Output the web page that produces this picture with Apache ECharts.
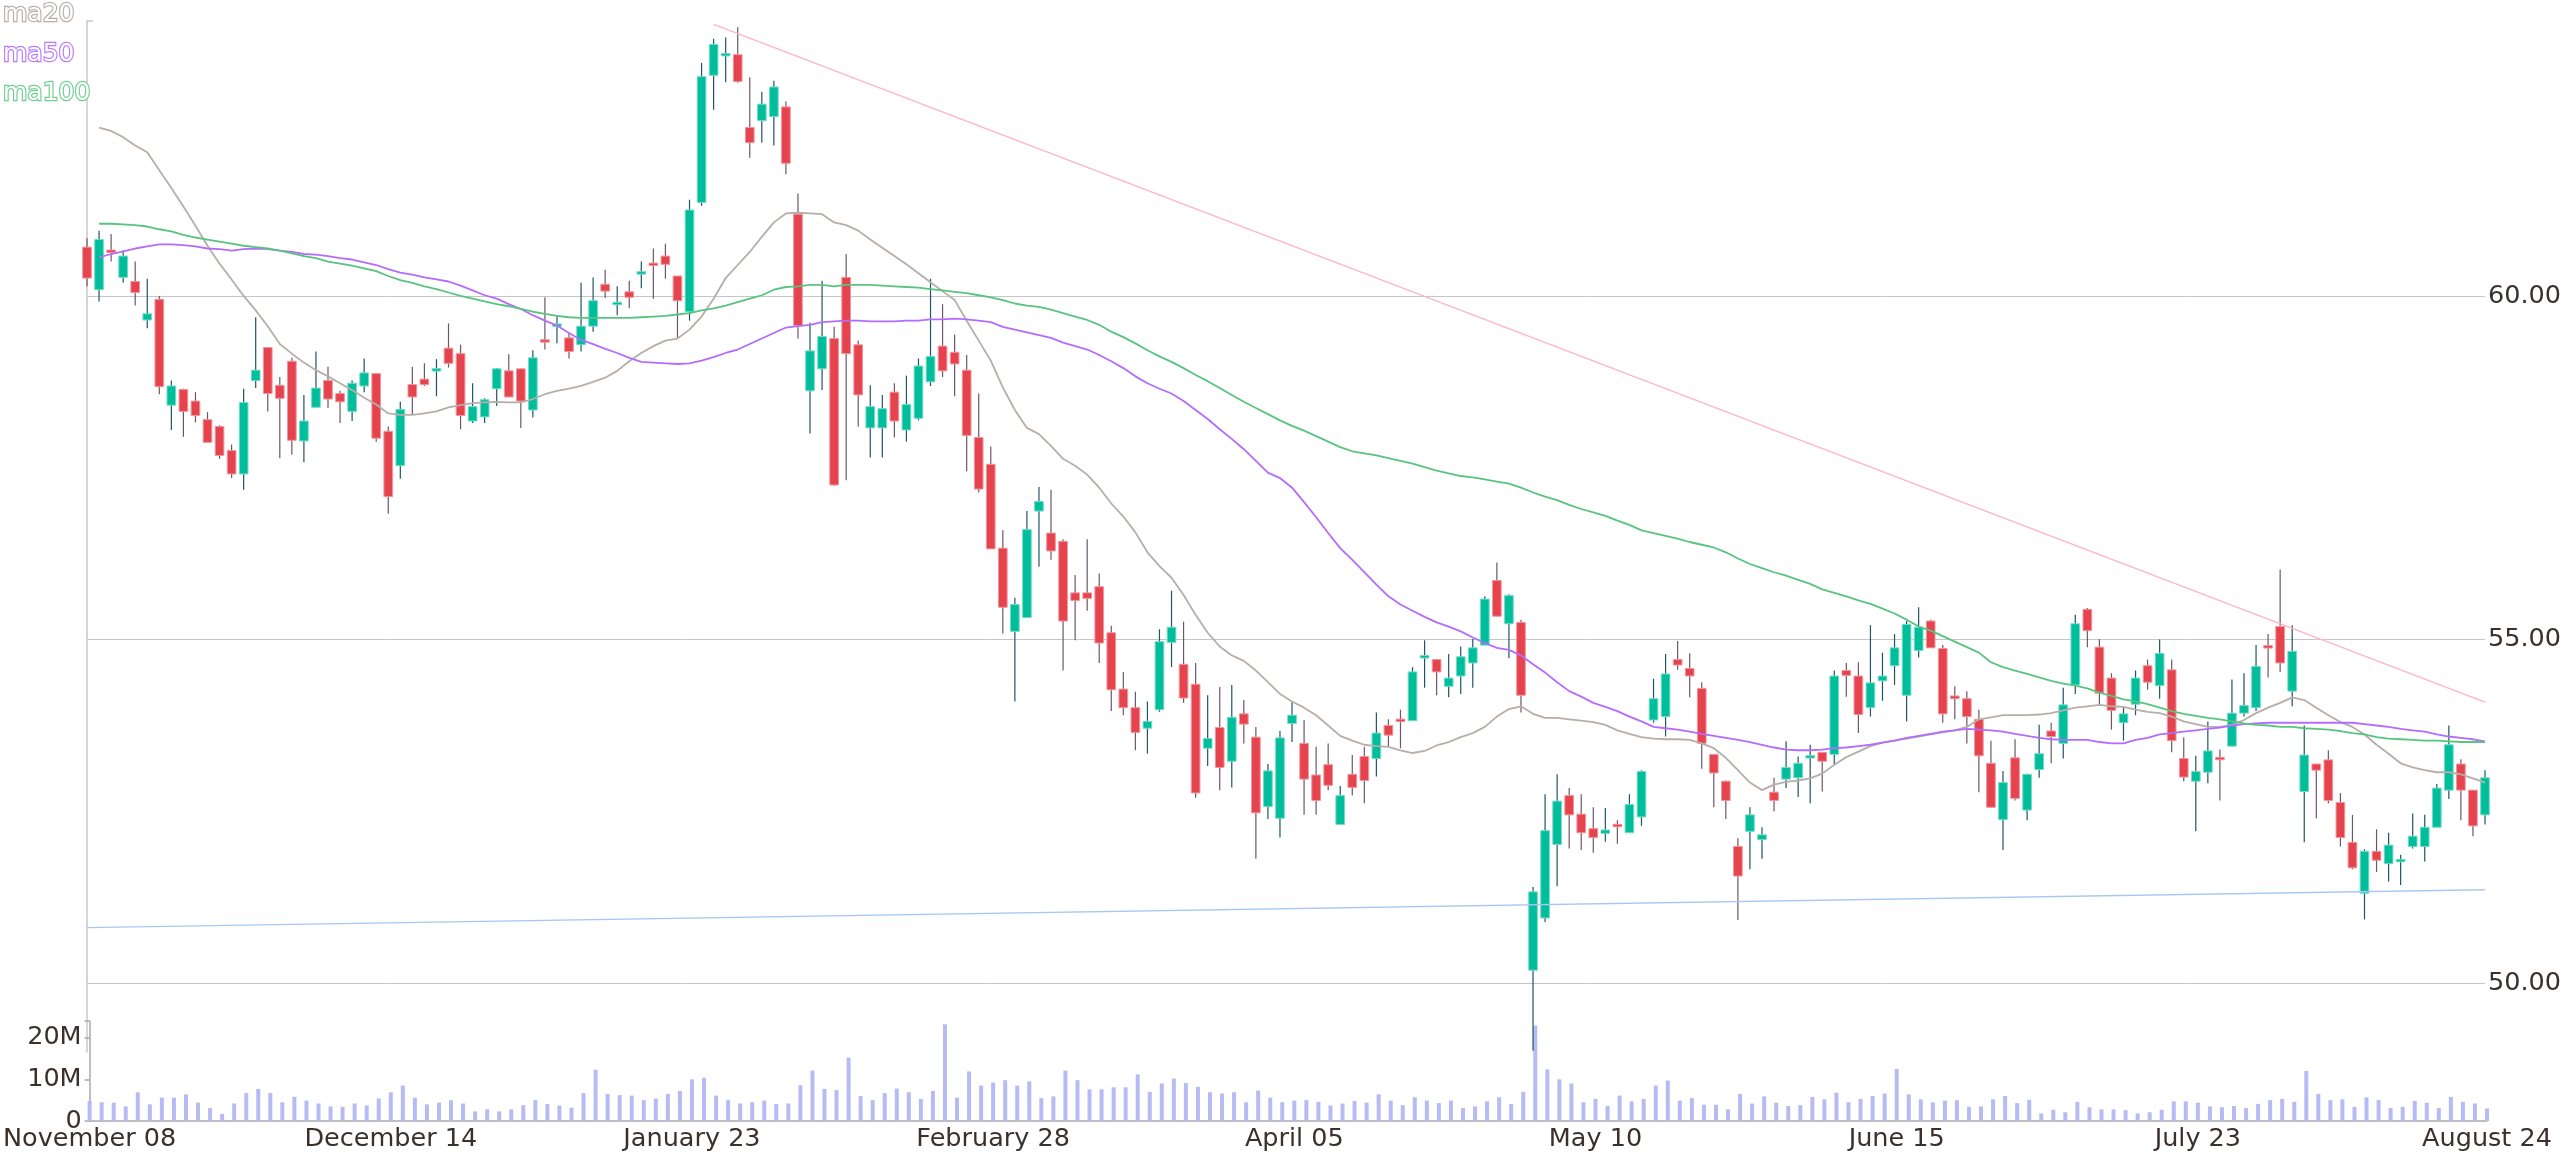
<!DOCTYPE html>
<html><head><meta charset="utf-8">
<script src="https://cdn.jsdelivr.net/npm/echarts@6/dist/echarts.min.js"></script>
<style>html,body{margin:0;padding:0;background:#fff}#chart{width:2564px;height:1153px}</style>
</head><body><div id="chart"></div>
<script>
// ---- categories: NYSE trading days 2017-11-08 .. 2018-08-24 ----
const holidays = ['2017-11-23','2017-12-25','2018-01-01','2018-01-15','2018-02-19','2018-03-30','2018-05-28','2018-07-04'];
const firstDay = '2017-11-08', lastDay = '2018-08-24';
const monthNames = ['January','February','March','April','May','June','July','August','September','October','November','December'];
function tradingDays(start, end, hol) {
  const out = [];
  const d = new Date(start + 'T00:00:00Z'), e = new Date(end + 'T00:00:00Z');
  while (d <= e) {
    const wd = d.getUTCDay(), s = d.toISOString().slice(0, 10);
    if (wd !== 0 && wd !== 6 && hol.indexOf(s) < 0) out.push(s);
    d.setUTCDate(d.getUTCDate() + 1);
  }
  return out;
}
const dates = tradingDays(firstDay, lastDay, holidays);

// ---- price data ----
const opens = [60.71,60.09,60.66,60.27,60.21,59.65,59.95,58.41,58.64,58.47,58.20,58.10,57.75,57.41,58.77,59.25,58.70,59.05,57.89,58.38,
58.77,58.58,58.32,58.69,58.87,58.03,57.53,58.71,58.79,58.92,59.24,59.16,58.18,58.24,58.65,58.91,58.94,58.34,59.35,59.57,
59.39,59.29,59.56,60.17,59.88,60.06,60.33,60.47,60.58,60.29,59.77,61.36,63.21,63.50,63.51,62.45,62.55,62.61,62.75,61.19,
58.62,58.94,59.38,60.27,59.29,58.08,58.08,58.60,58.05,58.22,58.75,59.27,59.18,58.92,57.94,57.55,56.33,55.12,55.32,56.87,
56.55,56.43,55.68,55.68,55.77,55.10,54.28,54.01,53.71,53.98,54.96,54.64,54.35,53.42,53.72,53.23,53.92,53.58,52.57,52.40,
53.78,53.49,53.03,53.18,52.31,53.04,53.30,53.27,53.75,53.83,53.82,54.74,54.71,54.32,54.47,54.66,54.92,55.86,55.23,55.25,
50.19,50.95,52.02,52.73,52.46,52.25,52.18,52.30,52.19,52.42,53.83,53.88,54.71,54.58,54.29,53.33,52.94,51.99,52.21,52.09,
52.78,52.97,52.99,53.29,53.36,53.33,54.55,54.47,54.01,54.40,54.62,54.19,54.84,55.27,54.87,54.18,54.14,53.84,53.20,52.38,
53.28,52.52,53.11,53.67,53.49,54.34,55.44,54.89,54.44,53.79,54.06,54.62,54.33,54.56,53.27,52.94,53.07,53.28,53.45,53.93,
54.01,54.90,55.19,54.25,52.79,53.19,53.25,52.63,52.05,51.31,51.92,51.74,51.78,51.99,51.99,52.27,52.81,53.19,52.81,52.45];
const closes = [60.26,60.82,60.64,60.58,60.05,59.74,58.68,58.69,58.32,58.26,57.87,57.68,57.41,58.45,58.92,58.58,58.51,57.90,58.18,58.66,
58.50,58.46,58.73,58.88,57.93,57.08,58.35,58.53,58.71,58.93,59.02,58.26,58.39,58.49,58.94,58.53,58.47,59.10,59.34,59.58,
59.19,59.56,59.93,60.07,59.90,59.98,60.34,60.45,60.46,59.93,61.25,63.19,63.66,63.52,63.12,62.23,62.79,63.04,61.93,59.57,
59.20,59.41,57.25,59.16,58.56,58.39,58.36,58.18,58.42,58.98,59.12,58.91,59.01,57.97,57.19,56.32,55.47,55.51,56.60,57.01,
56.29,55.27,55.57,55.60,54.95,54.27,54.01,53.65,53.81,54.97,55.18,54.15,52.77,53.56,53.14,53.87,53.77,52.48,53.09,53.57,
53.90,52.97,52.66,52.88,52.73,52.85,52.95,53.64,53.61,53.82,54.53,54.76,54.53,54.44,54.75,54.88,55.59,55.34,55.64,54.19,
51.33,52.22,52.65,52.45,52.19,52.12,52.23,52.29,52.60,53.08,54.14,54.50,54.63,54.47,53.49,53.06,52.66,51.56,52.45,52.16,
52.66,53.14,53.20,53.30,53.23,54.47,54.48,53.91,54.37,54.47,54.88,55.22,55.18,54.88,53.92,54.14,53.88,53.31,52.56,52.92,
52.69,53.04,53.34,53.59,54.05,55.23,55.13,54.22,53.97,53.92,54.44,54.38,54.80,53.53,53.00,53.08,53.38,53.26,53.93,54.04,
54.61,54.89,54.66,54.83,53.32,53.10,52.66,52.12,51.68,51.92,51.79,52.01,51.79,52.14,52.27,52.84,53.47,52.81,52.29,52.99];
const lows = [60.14,59.92,60.50,60.19,59.86,59.53,58.57,58.05,57.95,58.16,57.87,57.63,57.35,57.18,58.66,58.32,57.64,57.69,57.58,58.38,
58.37,58.15,58.18,58.60,57.88,56.83,57.34,58.27,58.69,58.54,58.96,58.06,58.15,58.15,58.40,58.53,58.08,58.23,59.22,59.31,
59.09,59.19,59.48,59.97,59.72,59.82,60.11,59.96,60.25,59.38,59.64,61.31,62.71,63.11,63.10,62.01,62.23,62.19,61.77,59.38,
58.00,58.63,57.24,57.32,58.10,57.65,57.65,57.94,57.88,58.19,58.69,58.82,58.54,57.45,57.14,56.32,55.09,54.10,55.32,56.06,
56.16,54.55,54.99,55.42,54.66,53.96,53.90,53.39,53.34,53.95,54.60,54.08,52.70,53.16,52.81,52.85,53.49,51.81,52.39,52.12,
53.51,52.45,52.45,52.81,52.31,52.73,52.62,53.01,53.45,53.42,53.82,54.30,54.19,54.16,54.21,54.30,54.92,55.34,54.73,53.94,
49.02,50.89,51.41,51.96,51.94,51.90,52.06,52.03,52.19,52.29,53.79,53.59,54.56,54.16,53.12,52.56,52.39,50.92,51.66,51.81,
52.50,52.84,52.71,52.62,52.79,53.19,54.17,53.64,53.88,54.11,54.34,53.81,54.74,54.88,53.79,53.84,53.49,52.78,52.56,51.94,
52.66,52.37,52.99,53.20,53.27,54.21,54.89,54.06,53.69,53.53,53.90,54.27,54.14,53.36,52.94,52.21,52.91,52.66,53.45,53.88,
53.96,54.45,54.53,54.03,52.05,52.40,52.62,51.99,51.66,50.93,51.62,51.48,51.43,51.96,51.77,52.27,52.68,52.37,52.14,52.31];
const highs = [60.84,60.95,60.90,60.66,60.50,60.25,60.00,58.77,58.65,58.60,58.31,58.12,57.84,58.65,59.69,59.25,58.82,59.10,58.56,59.19,
58.97,58.62,58.77,59.09,58.87,58.10,58.46,58.97,59.02,59.08,59.60,59.29,58.73,58.51,58.95,59.15,58.94,59.21,59.98,59.72,
59.46,60.19,60.27,60.38,60.14,60.22,60.50,60.69,60.76,60.29,61.40,63.39,63.74,63.76,63.91,63.18,62.97,63.13,62.83,61.49,
59.61,60.22,59.55,60.61,59.35,58.70,58.56,58.73,58.84,59.09,60.25,59.88,59.44,59.14,58.58,57.81,56.59,55.61,56.87,57.22,
57.18,56.46,55.94,56.46,55.96,55.20,54.53,54.24,54.10,55.15,55.71,55.26,54.66,54.19,54.31,54.34,54.12,53.73,53.19,53.67,
54.09,53.83,53.44,53.49,52.87,53.32,53.44,53.94,53.84,53.98,54.60,54.99,54.71,54.79,54.90,55.01,55.63,56.12,55.66,55.29,
51.40,52.75,53.04,52.84,52.75,52.56,52.55,52.37,52.75,53.10,54.43,54.79,54.98,54.80,54.38,53.33,52.95,52.11,52.56,52.27,
52.99,53.52,53.30,53.47,53.36,54.55,54.66,54.67,55.21,54.81,55.08,55.27,55.47,55.29,54.92,54.32,54.25,53.98,53.53,53.09,
53.55,53.05,53.76,53.79,54.30,55.36,55.46,55.01,54.51,54.03,54.55,54.71,55.00,54.71,53.58,53.31,53.81,53.40,54.42,54.51,
54.92,55.08,56.02,55.21,53.75,53.19,53.39,52.77,52.45,51.95,52.24,52.19,51.87,52.47,52.45,52.90,53.75,53.26,52.81,53.10];

// ---- volume (millions) ----
const volumes = [4.8,4.5,4.4,3.5,6.9,4.0,5.6,5.6,6.4,4.4,3.1,1.7,4.2,6.7,7.7,6.7,4.5,5.8,4.9,4.2,
3.5,3.4,4.2,3.7,5.4,6.9,8.5,5.6,4.0,4.4,5.0,4.2,2.3,2.8,2.3,2.8,3.8,5.0,4.1,3.7,
3.2,6.7,12.3,6.5,6.2,6.1,5.0,5.4,6.5,7.2,10.0,10.4,6.1,5.0,4.2,4.5,4.9,4.1,4.2,8.6,
12.1,7.7,7.4,15.2,6.0,5.0,6.7,7.8,6.9,5.3,7.2,23.2,5.6,11.9,8.5,9.2,9.8,8.5,9.5,5.5,
5.9,12.1,9.8,7.6,7.6,8.1,8.1,11.2,7.0,9.0,10.2,9.1,8.2,6.9,6.6,6.9,4.5,7.3,5.6,4.5,
4.9,5.0,4.6,3.7,4.2,4.8,4.4,6.4,4.9,3.8,5.7,4.9,4.3,4.9,3.1,3.5,4.7,5.7,4.1,7.0,
22.9,12.4,10.0,9.0,4.5,5.3,3.6,6.1,4.7,5.3,8.5,9.7,4.9,5.5,3.9,3.9,2.8,6.5,4.2,5.9,
4.4,3.6,3.8,5.8,5.2,6.8,4.5,5.3,6.0,6.6,12.5,6.4,5.2,4.5,4.9,5.0,3.4,3.5,5.2,6.0,
4.3,5.1,1.8,2.7,2.1,4.6,3.3,2.8,2.8,2.6,1.8,2.1,2.7,4.7,4.7,4.4,3.5,3.3,3.6,3.1,
4.1,5.0,5.3,4.6,12.0,6.5,5.0,5.2,3.4,5.7,5.0,3.1,3.4,4.8,4.4,3.1,5.8,4.6,4.2,3.0];

// ---- moving averages ----
const ma20 = [null,62.45,62.40,62.31,62.19,62.09,61.83,61.57,61.30,61.02,60.73,60.47,60.24,60.00,59.79,59.56,59.30,59.16,59.03,58.92,
58.83,58.73,58.63,58.52,58.42,58.29,58.27,58.27,58.29,58.32,58.38,58.41,58.44,58.45,58.46,58.45,58.45,58.50,58.57,58.62,
58.65,58.69,58.75,58.81,58.91,59.05,59.17,59.27,59.35,59.38,59.51,59.70,59.96,60.26,60.45,60.64,60.86,61.07,61.20,61.21,
61.20,61.19,61.07,61.03,60.95,60.82,60.70,60.58,60.46,60.33,60.20,60.07,59.94,59.64,59.35,59.06,58.67,58.34,58.08,57.99,
57.82,57.63,57.53,57.40,57.21,56.98,56.79,56.56,56.27,56.07,55.90,55.65,55.36,55.10,54.90,54.77,54.69,54.55,54.38,54.21,
54.10,54.01,53.90,53.75,53.60,53.53,53.47,53.45,53.44,53.39,53.35,53.38,53.46,53.51,53.58,53.64,53.73,53.88,53.99,54.03,
53.92,53.86,53.86,53.84,53.82,53.80,53.76,53.68,53.63,53.58,53.56,53.55,53.55,53.54,53.49,53.42,53.28,53.10,52.92,52.81,
52.89,52.93,52.95,52.98,53.05,53.18,53.29,53.37,53.45,53.50,53.53,53.56,53.59,53.62,53.65,53.68,53.73,53.84,53.87,53.90,
53.90,53.90,53.91,53.93,53.97,54.01,54.03,54.05,54.03,54.02,53.98,53.95,53.93,53.88,53.81,53.77,53.73,53.73,53.76,53.83,
53.93,54.01,54.08,54.16,54.12,54.01,53.90,53.80,53.73,53.62,53.47,53.34,53.20,53.14,53.10,53.07,53.07,53.04,52.98,52.92];
const ma50 = [null,60.56,60.61,60.65,60.69,60.72,60.75,60.75,60.74,60.72,60.69,60.68,60.66,60.68,60.69,60.68,60.66,60.64,60.61,60.60,
60.58,60.55,60.53,60.49,60.45,60.39,60.34,60.31,60.27,60.24,60.21,60.15,60.08,60.01,59.96,59.88,59.81,59.72,59.64,59.57,
59.46,59.36,59.30,59.23,59.17,59.10,59.04,59.03,59.02,59.01,59.02,59.06,59.11,59.17,59.22,59.30,59.38,59.46,59.54,59.56,
59.58,59.62,59.63,59.64,59.64,59.63,59.63,59.63,59.64,59.64,59.66,59.66,59.67,59.66,59.64,59.62,59.55,59.51,59.47,59.43,
59.39,59.32,59.27,59.22,59.14,59.05,58.95,58.83,58.73,58.65,58.58,58.47,58.34,58.21,58.06,57.92,57.77,57.60,57.43,57.35,
57.21,57.00,56.78,56.55,56.33,56.16,55.98,55.80,55.63,55.51,55.42,55.33,55.25,55.19,55.12,55.03,54.95,54.88,54.85,54.77,
54.64,54.52,54.38,54.25,54.17,54.08,54.02,53.96,53.88,53.81,53.73,53.71,53.69,53.66,53.63,53.60,53.57,53.54,53.51,53.47,
53.43,53.40,53.39,53.39,53.40,53.42,53.43,53.45,53.47,53.50,53.53,53.57,53.60,53.63,53.66,53.68,53.70,53.69,53.68,53.66,
53.63,53.60,53.57,53.55,53.54,53.54,53.54,53.51,53.49,53.49,53.54,53.57,53.62,53.64,53.66,53.68,53.70,53.72,53.75,53.77,
53.78,53.79,53.79,53.79,53.79,53.79,53.79,53.79,53.79,53.77,53.75,53.73,53.70,53.68,53.66,53.62,53.59,53.57,53.55,53.52];
const ma100 = [null,61.05,61.05,61.04,61.03,61.01,60.97,60.94,60.89,60.85,60.82,60.79,60.76,60.73,60.71,60.69,60.66,60.62,60.58,60.55,
60.50,60.47,60.44,60.40,60.36,60.29,60.23,60.19,60.14,60.10,60.05,60.00,59.96,59.92,59.88,59.85,59.81,59.77,59.74,59.71,
59.69,59.68,59.68,59.68,59.68,59.68,59.69,59.70,59.71,59.73,59.75,59.79,59.82,59.86,59.91,59.96,60.01,60.09,60.13,60.14,
60.16,60.16,60.14,60.16,60.16,60.16,60.15,60.14,60.13,60.12,60.10,60.08,60.06,60.04,60.01,59.98,59.94,59.89,59.86,59.84,
59.80,59.75,59.70,59.65,59.58,59.48,59.40,59.31,59.21,59.12,59.04,58.95,58.85,58.76,58.66,58.56,58.46,58.37,58.28,58.19,
58.11,58.04,57.96,57.88,57.80,57.74,57.71,57.68,57.64,57.60,57.56,57.51,57.46,57.42,57.38,57.36,57.33,57.30,57.27,57.21,
57.14,57.08,57.03,56.96,56.90,56.85,56.80,56.73,56.67,56.59,56.55,56.51,56.47,56.42,56.38,56.34,56.27,56.18,56.10,56.04,
55.98,55.93,55.87,55.81,55.73,55.68,55.63,55.57,55.52,55.45,55.38,55.29,55.19,55.13,55.05,54.97,54.89,54.81,54.67,54.60,
54.55,54.50,54.45,54.40,54.36,54.33,54.29,54.23,54.18,54.13,54.10,54.06,54.01,53.96,53.92,53.89,53.86,53.84,53.81,53.78,
53.76,53.75,53.73,53.73,53.71,53.70,53.69,53.67,53.64,53.62,53.58,53.56,53.55,53.54,53.53,53.53,53.52,53.51,53.51,53.51];

// ---- trend lines: [category index, price] ----
const trendHigh = [[52, 63.95], [199, 54.09]];
const trendLow = [[0, 50.81], [199, 51.36]];

// ---- axis tick labels ----
const priceTicks = [50, 55, 60];
const volumeTicks = [0, 10e6, 20e6];
const priceRange = [49, 64];
const volumeMax = 24e6;

// ---- styling ----
const FONT = 'DejaVu Sans';
const TXT = '#3a312c';
const UP = '#00bd9c', DOWN = '#e5434d';
const UP_EDGE = '#73dcc6', DOWN_EDGE = '#f2959b';
const UP_WICK = '#1f5565', DOWN_WICK = '#6e5668';
const C20 = '#b7aea8', C50 = '#b46cff', C100 = '#58c47f';

const candleData = dates.map((d, i) => [i, opens[i], closes[i], lows[i], highs[i]]);

function renderCandle(params, api) {
  const i = api.value(0), o = api.value(1), c = api.value(2), l = api.value(3), h = api.value(4);
  const pO = api.coord([i, o]), pC = api.coord([i, c]), pL = api.coord([i, l]), pH = api.coord([i, h]);
  const x = pO[0];
  const w = api.size([1, 0])[0] * 0.72;
  const up = c >= o;
  let top = Math.min(pO[1], pC[1]);
  let hgt = Math.abs(pO[1] - pC[1]);
  if (hgt < 2.5) { top = (pO[1] + pC[1]) / 2 - 1.25; hgt = 2.5; }
  return {
    type: 'group',
    children: [
      { type: 'line', shape: { x1: x, y1: pH[1], x2: x, y2: pL[1] },
        style: { stroke: up ? UP_WICK : DOWN_WICK, lineWidth: 1.2 } },
      { type: 'rect', shape: { x: x - w / 2, y: top, width: w, height: hgt },
        style: { fill: up ? UP : DOWN, stroke: up ? UP_EDGE : DOWN_EDGE, lineWidth: 1 } }
    ]
  };
}

const chart = echarts.init(document.getElementById('chart'), null, { renderer: 'canvas' });
chart.setOption({
  animation: false,
  backgroundColor: '#ffffff',
  textStyle: { fontFamily: FONT },
  legend: {
    orient: 'vertical', left: -2, top: 1, padding: 0,
    itemWidth: 0, itemHeight: 26, itemGap: 12, icon: 'none',
    selectedMode: false,
    textStyle: { fontFamily: FONT, fontSize: 25, color: '#ffffff', textBorderWidth: 2.4, lineHeight: 26 },
    data: [
      { name: 'ma20', textStyle: { textBorderColor: '#b9b0a9' } },
      { name: 'ma50', textStyle: { textBorderColor: '#b77cff' } },
      { name: 'ma100', textStyle: { textBorderColor: '#6fcf92' } }
    ]
  },
  grid: [
    { left: 87, right: 77, top: 21, height: 1031 },
    { left: 87, right: 77, top: 1021, height: 100 }
  ],
  xAxis: [
    { type: 'category', gridIndex: 0, data: dates, boundaryGap: false, show: false },
    { type: 'category', gridIndex: 1, data: dates, boundaryGap: false,
      axisLine: { show: true, lineStyle: { color: '#a9a9a9', width: 1.5 } },
      axisTick: { show: false },
      splitLine: { show: false },
      axisLabel: {
        interval: (idx) => idx % 25 === 0 || idx === dates.length - 1,
        formatter: (v) => monthNames[+v.slice(5, 7) - 1] + ' ' + v.slice(8, 10),
        color: TXT, fontFamily: FONT, fontSize: 25.5, margin: 5
      }
    }
  ],
  yAxis: [
    { type: 'value', gridIndex: 0, position: 'right', min: priceRange[0], max: priceRange[1],
      axisLine: { show: false },
      axisTick: { show: false, customValues: priceTicks },
      axisLabel: { customValues: priceTicks, formatter: (v) => v.toFixed(2),
        color: TXT, fontFamily: FONT, fontSize: 25.5, margin: 3 },
      splitLine: { show: true, lineStyle: { color: '#c6c6c6', width: 1 } }
    },
    { type: 'value', gridIndex: 0, position: 'left', min: priceRange[0], max: priceRange[1],
      axisLine: { show: true, lineStyle: { color: '#c8c8c8', width: 1.5 } },
      axisTick: { show: true, inside: true, length: 6, customValues: [priceRange[1]], lineStyle: { color: '#c8c8c8', width: 1.5 } },
      axisLabel: { show: false },
      splitLine: { show: false }
    },
    { type: 'value', gridIndex: 1, position: 'left', min: 0, max: volumeMax,
      axisLine: { show: true, lineStyle: { color: '#a9a9a9', width: 1.5 } },
      axisTick: { show: true, length: 5, customValues: volumeTicks.concat([volumeMax]), lineStyle: { color: '#a9a9a9', width: 1.5 } },
      axisLabel: { customValues: volumeTicks, formatter: (v) => v === 0 ? '0' : (v / 1e6) + 'M',
        color: TXT, fontFamily: FONT, fontSize: 25.5, margin: 8 },
      splitLine: { show: false }
    }
  ],
  series: [
    { name: 'volume', type: 'bar', xAxisIndex: 1, yAxisIndex: 2,
      data: volumes.map(v => v * 1e6), barWidth: 4,
      itemStyle: { color: '#b6bbf3' } },
    { name: 'candles', type: 'custom', xAxisIndex: 0, yAxisIndex: 0,
      renderItem: renderCandle, data: candleData,
      encode: { x: 0, y: [1, 2, 3, 4] }, z: 3 },
    { name: 'trendHigh', type: 'line', xAxisIndex: 0, yAxisIndex: 0, data: trendHigh,
      showSymbol: false, symbol: 'none', lineStyle: { color: '#ffb4c6', width: 1.4 }, z: 4 },
    { name: 'trendLow', type: 'line', xAxisIndex: 0, yAxisIndex: 0, data: trendLow,
      showSymbol: false, symbol: 'none', lineStyle: { color: '#a8c8f4', width: 1.4 }, z: 4 },
    { name: 'ma20', type: 'line', xAxisIndex: 0, yAxisIndex: 0, data: ma20,
      showSymbol: false, symbol: 'none', itemStyle: { color: C20 }, lineStyle: { color: C20, width: 1.8 }, z: 5 },
    { name: 'ma50', type: 'line', xAxisIndex: 0, yAxisIndex: 0, data: ma50,
      showSymbol: false, symbol: 'none', itemStyle: { color: C50 }, lineStyle: { color: C50, width: 1.8 }, z: 5 },
    { name: 'ma100', type: 'line', xAxisIndex: 0, yAxisIndex: 0, data: ma100,
      showSymbol: false, symbol: 'none', itemStyle: { color: C100 }, lineStyle: { color: C100, width: 1.8 }, z: 5 }
  ]
});
</script>
</body></html>
